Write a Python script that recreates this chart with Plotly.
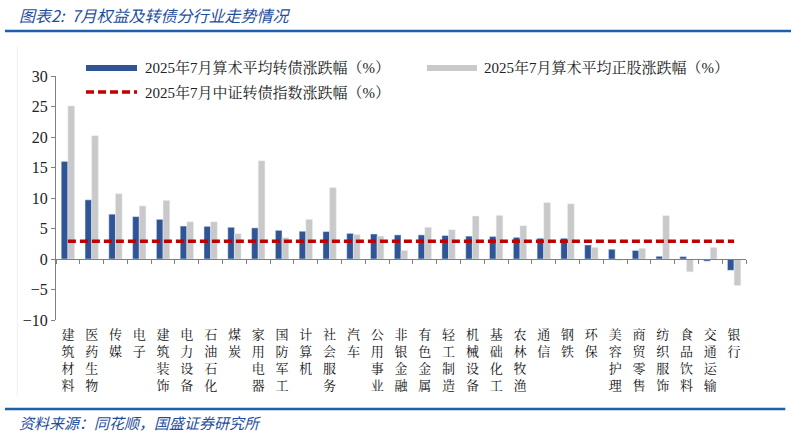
import plotly.graph_objects as go

categories = ["建筑材料", "医药生物", "传媒", "电子", "建筑装饰", "电力设备", "石油石化", "煤炭",
              "家用电器", "国防军工", "计算机", "社会服务", "汽车", "公用事业", "非银金融", "有色金属",
              "轻工制造", "机械设备", "基础化工", "农林牧渔", "通信", "钢铁", "环保", "美容护理",
              "商贸零售", "纺织服饰", "食品饮料", "交通运输", "银行"]
cb_change = [16.0, 9.7, 7.35, 6.95, 6.5, 5.4, 5.35, 5.2, 5.1, 4.7, 4.55, 4.5, 4.2, 4.1, 3.95, 3.95,
             3.85, 3.75, 3.7, 3.55, 3.4, 3.4, 2.3, 1.6, 1.4, 0.45, 0.4, -0.35, -1.85]
stock_change = [25.1, 20.2, 10.7, 8.7, 9.6, 6.1, 6.1, 4.15, 16.1, 3.5, 6.5, 11.7, 4.0, 3.75, 1.4, 5.2,
                4.8, 7.05, 7.15, 5.45, 9.25, 9.05, 1.9, -0.2, 1.75, 7.1, -2.1, 1.9, -4.35]
index_change = 2.9
y_ticks = [-10, -5, 0, 5, 10, 15, 20, 25, 30]

name_cb = "2025年7月算术平均转债涨跌幅（%）"
name_stock = "2025年7月算术平均正股涨跌幅（%）"
name_idx = "2025年7月中证转债指数涨跌幅（%）"

BLUE = "#2F5597"
GRAY = "#C9C9C9"
RED = "#C00000"
FONT = "Liberation Serif, Noto Serif CJK SC, Noto Sans CJK SC, serif"

tick_text = ["<br>".join(list(c)) for c in categories]

fig = go.Figure()
fig.add_trace(go.Bar(x=categories, y=cb_change, marker_color=BLUE, name=name_cb, showlegend=False))
fig.add_trace(go.Bar(x=categories, y=stock_change, marker_color=GRAY, name=name_stock, showlegend=False))
fig.add_trace(go.Scatter(x=categories, y=[index_change] * len(categories), mode="lines",
                         line=dict(color=RED, width=3.5, dash="8px,4px"), name=name_idx,
                         showlegend=False, xaxis="x2"))

ymin, ymax = y_ticks[0], y_ticks[-1]
zero_pos = (0 - ymin) / (ymax - ymin)

fig.update_layout(
    width=791, height=435,
    margin=dict(l=56, r=45, t=76, b=115, autoexpand=False),
    paper_bgcolor="white", plot_bgcolor="white",
    barmode="group", bargap=0.44, bargroupgap=0.0,
    font=dict(family=FONT, size=13, color="#222"),
    showlegend=False,
    xaxis=dict(type="category", tickmode="array", tickvals=categories, ticktext=tick_text,
               showline=False, ticks="", showgrid=False, zeroline=False,
               tickfont=dict(family=FONT, size=13, color="#111"), ticklabelstandoff=5,
               tickangle=0, range=[-0.5, len(categories) - 0.5]),
    xaxis2=dict(type="category", overlaying="x", anchor="free", position=zero_pos,
                matches="x", showline=True, linecolor="#808080", linewidth=1,
                ticks="outside", ticklen=4, tickcolor="#808080", tickson="boundaries",
                showticklabels=False, showgrid=False, zeroline=False),
    yaxis=dict(range=[ymin, ymax], tickvals=y_ticks, showgrid=False, zeroline=False,
               showline=True, linecolor="#808080", linewidth=1, ticks="outside", ticklen=4,
               tickcolor="#808080", tickfont=dict(family=FONT, size=16, color="#222")),
)

# manual legend (paper coords)
legend_items = [
    (name_cb, dict(color=BLUE, width=6), 0.0435, 0.1174, 1.033),
    (name_stock, dict(color=GRAY, width=6), 0.5377, 0.6101, 1.033),
    (name_idx, dict(color=RED, width=3.5, dash="8px,4px"), 0.0435, 0.1174, 0.934),
]
for label, ln, x0, x1, yy in legend_items:
    fig.add_shape(type="line", xref="paper", yref="paper", x0=x0, x1=x1, y0=yy, y1=yy, line=ln)
    fig.add_annotation(text=label, xref="paper", yref="paper", x=x1 + 0.008, y=yy,
                       xanchor="left", yanchor="middle", showarrow=False,
                       font=dict(family=FONT, size=15, color="#222"))

# title
fig.add_annotation(text="图表2:  7月权益及转债分行业走势情况", xref="paper", yref="paper",
                   x=-0.056, y=1.25, xanchor="left", yanchor="middle", showarrow=False,
                   font=dict(family="Noto Sans CJK SC", size=16, color="#1F4E9C", style="italic"))

# decorative rules
fig.add_shape(type="line", xref="paper", yref="paper", x0=-0.074, x1=1.066, y0=1.184, y1=1.184,
              line=dict(color="#1F5DAD", width=2.5))
fig.add_shape(type="line", xref="paper", yref="paper", x0=-0.074, x1=1.057, y0=-0.365, y1=-0.365,
              line=dict(color="#1F5DAD", width=2.5))
fig.add_shape(type="line", xref="paper", yref="paper", x0=-0.056, x1=-0.056, y0=-0.31, y1=1.12,
              line=dict(color="#F0F0F0", width=1))

fig.add_annotation(text="资料来源：同花顺，国盛证券研究所", xref="paper", yref="paper",
                   x=-0.056, y=-0.422, xanchor="left", yanchor="middle", showarrow=False,
                   font=dict(family="Noto Sans CJK SC", size=15, color="#1F4E9C", style="italic"))

fig.write_html("out.html", config={"displayModeBar": False},
               post_script="document.body.style.margin='0';document.body.style.padding='0';")
